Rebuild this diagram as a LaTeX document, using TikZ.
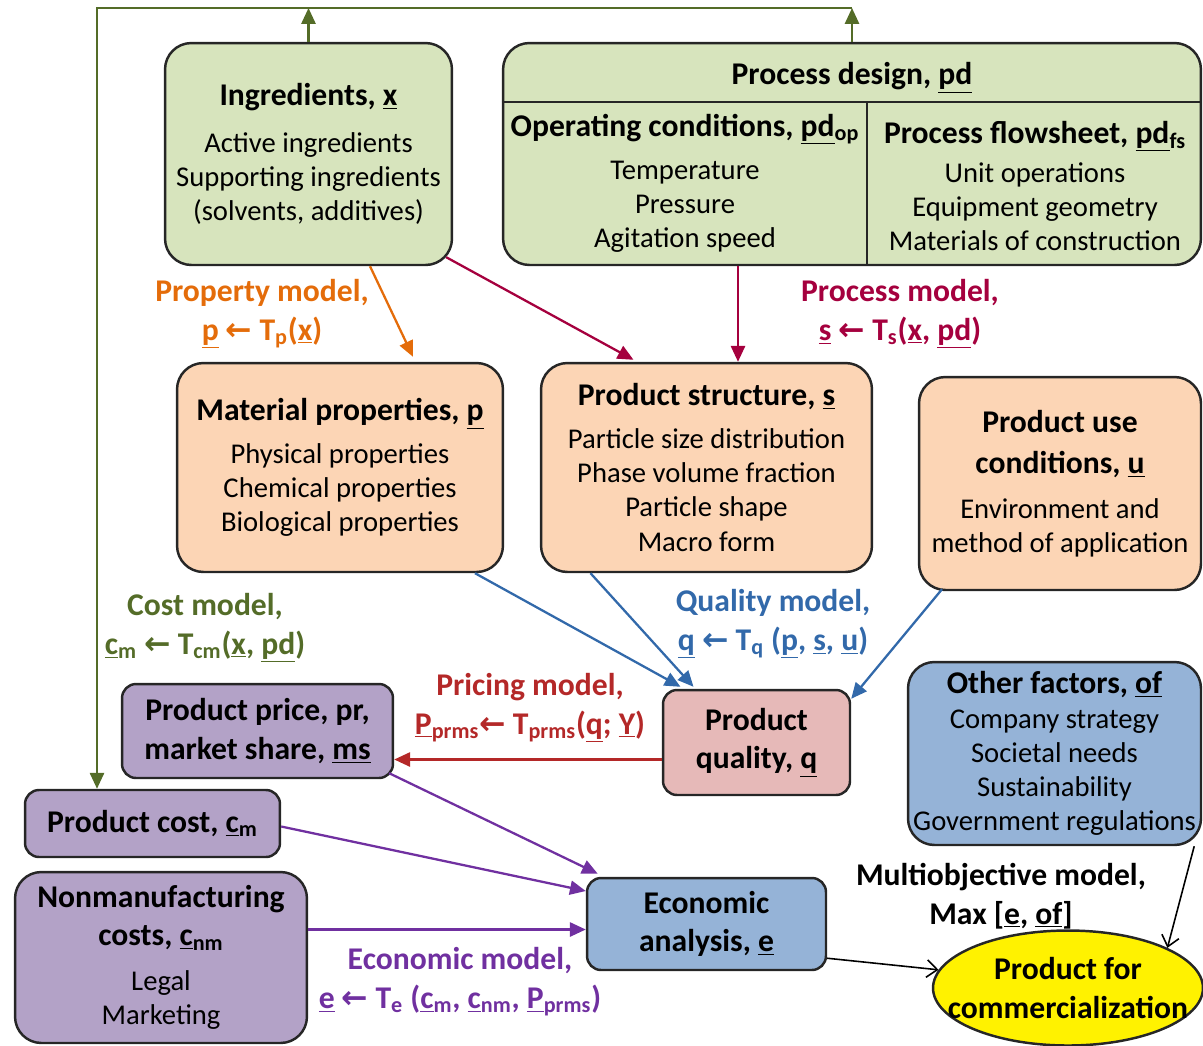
\documentclass[tikz,border=0pt]{standalone}
\usepackage{fontspec}
\setmainfont{Carlito}
\newfontfamily\arrowfont{DejaVu Sans}
\usetikzlibrary{arrows.meta,calc,shapes.geometric}

\definecolor{ingrfill}{RGB}{215,228,189}
\definecolor{propfill}{RGB}{252,213,181}
\definecolor{qualfill}{RGB}{230,185,184}
\definecolor{purpfill}{RGB}{179,162,199}
\definecolor{bluefill}{RGB}{149,179,215}
\definecolor{costgreen}{RGB}{84,108,40}
\definecolor{proporange}{RGB}{228,108,10}
\definecolor{proccrimson}{RGB}{165,0,62}
\definecolor{qualblue}{RGB}{50,105,170}
\definecolor{pricered}{RGB}{180,40,40}
\definecolor{econpurple}{RGB}{112,48,160}

\newcommand\ttl{\fontsize{18}{22}\selectfont\bfseries}
\newcommand\itm{\fontsize{16.3}{19.4}\selectfont}
\newcommand\undl[1]{\underline{#1}}
\newcommand\larr{{\arrowfont ←}}

\tikzset{
  box/.style={draw=black!85, line width=1.4pt, rounded corners=15pt, align=center, inner sep=0pt, font=\itm},
  smallbox/.style={box, rounded corners=8pt},
  lbl/.style={align=center, font=\ttl},
  arr/.style={line width=1.3pt, -{Triangle[length=9pt,width=8pt]}},
  thinarr/.style={line width=0.9pt, -{Straight Barb[length=6pt,width=10pt]}},
}

\begin{document}
\begin{tikzpicture}[x=0.02cm, y=-0.02cm]
	\useasboundingbox (0,0) rectangle (1203,1045);
	
	% Верхний ряд
	\node[box, fill=ingrfill, minimum width=5.74cm, minimum height=4.44cm] (ingr) at (308.5,154)
		{{\ttl Ingredients, \undl{x}}\\[7pt] Active ingredients\\ Supporting ingredients\\ (solvents, additives)};
	\node[box, fill=ingrfill, minimum width=13.96cm, minimum height=4.44cm] (pd) at (852,154) {};
	\node[lbl] (pdtitle) at (852,78) {Process design, \undl{pd}};
	\draw[line width=1.4pt, black!85] ($(pd.north west)+(0,60)$) -- ($(pd.north east)+(0,60)$);
	\draw[line width=1.4pt, black!85] ($(pd.north west)+(365,60)$) -- ($(pd.south west)+(365,0)$);
	\node[align=center, font=\itm] (pdop) at (685,183)
		{{\ttl Operating conditions, \undl{pd}\textsubscript{op}}\\[5pt] Temperature\\ Pressure\\ Agitation speed};
	\node[align=center, font=\itm] (pdfs) at (1035,186)
		{{\ttl Process flowsheet, \undl{pd}\textsubscript{fs}}\\[3pt] Unit operations\\ Equipment geometry\\ Materials of construction};
	
	% Средний ряд
	\node[box, fill=propfill, minimum width=6.52cm, minimum height=4.18cm] (matp) at (340,467.5)
		{{\ttl Material properties, \undl{p}}\\[5pt] Physical properties\\ Chemical properties\\ Biological properties};
	\node[box, fill=propfill, minimum width=6.62cm, minimum height=4.18cm] (pstr) at (706.5,467.5)
		{{\ttl Product structure, \undl{s}}\\[5pt] Particle size distribution\\ Phase volume fraction\\ Particle shape\\ Macro form};
	\node[box, fill=propfill, minimum width=5.64cm, minimum height=4.26cm] (puse) at (1060,483.5)
		{{\ttl Product use}\\[4pt] {\ttl conditions, \undl{u}}\\[6pt] Environment and\\ method of application};
	
	% Нижняя часть
	\node[smallbox, fill=qualfill, minimum width=3.74cm, minimum height=2.1cm, font=\ttl] (qual) at (756.5,742.5)
		{Product\\ quality, \undl{q}};
	\node[box, fill=bluefill, minimum width=5.86cm, minimum height=3.66cm] (other) at (1054.5,753.5)
		{{\ttl Other factors, \undl{of}}\\ Company strategy\\ Societal needs\\ Sustainability\\ Government regulations};
	\node[smallbox, fill=purpfill, minimum width=5.42cm, minimum height=1.88cm, font=\ttl] (price) at (257.5,731)
		{Product price, pr,\\ market share, \undl{ms}};
	\node[smallbox, fill=purpfill, minimum width=5.10cm, minimum height=1.34cm, font=\ttl] (cost) at (152.5,823.5)
		{Product cost, \undl{c}\textsubscript{m}};
	\node[box, fill=purpfill, minimum width=5.84cm, minimum height=3.42cm] (nonman) at (161,957.5)
		{{\ttl Nonmanufacturing}\\[2pt] {\ttl costs, \undl{c}\textsubscript{nm}}\\[6pt] Legal\\ Marketing};
	\node[smallbox, fill=bluefill, minimum width=4.78cm, minimum height=1.84cm, font=\ttl] (econ) at (706.5,924)
		{Economic\\ analysis, \undl{e}};
	\node[ellipse, draw=black!85, line width=1.4pt, fill=yellow, minimum width=5.4cm, minimum height=2.3cm,
		inner xsep=-16pt, inner ysep=0pt, align=center, font=\ttl] (prod) at (1068,988) {Product for\\ commercialization};
	
	% Подписи моделей
	\node[lbl, text=proporange] (propmodel) at (262,314) {Property model,\\ \undl{p} \larr{} T\textsubscript{p}(\undl{x})};
	\node[lbl, text=proccrimson] (procmodel) at (900,314) {Process model,\\ \undl{s} \larr{} T\textsubscript{s}(\undl{x}, \undl{pd})};
	\node[lbl, text=costgreen] (costmodel) at (205,628) {Cost model,\\ \undl{c}\textsubscript{m} \larr{} T\textsubscript{cm}(\undl{x}, \undl{pd})};
	\node[lbl, text=qualblue] (qualmodel) at (773,624) {Quality model,\\ \undl{q} \larr{} T\textsubscript{q} (\undl{p}, \undl{s}, \undl{u})};
	\node[lbl, text=pricered] (pricemodel) at (530,708) {Pricing model,\\ \undl{P}\textsubscript{prms}\larr{} T\textsubscript{prms}(\undl{q}; \undl{Y})};
	\node[lbl] (multimodel) at (1001,896) {Multiobjective model,\\ Max [\undl{e}, \undl{of}]};
	\node[lbl, text=econpurple] (econmodel) at (460,982)
		{Economic model,\\ \undl{e} \larr{} T\textsubscript{e} (\undl{c}\textsubscript{m}, \undl{c}\textsubscript{nm}, \undl{P}\textsubscript{prms})};
	
	% Обратная связь по стоимости
	\coordinate (topL) at (97,8);
	\draw[arr, costgreen] (ingr.north) -- (ingr.north |- topL);
	\draw[arr, costgreen] (pd.north) -- (pd.north |- topL);
	\draw[arr, costgreen] (pd.north |- topL) -- (topL) -- (topL |- cost.north);
	
	% Стрелки
	\draw[arr, proporange] ($(ingr.south)+(61.5,0)$) -- ($(matp.north)+(73,-5)$);
	\draw[arr, proccrimson] ($(ingr.south east)+(-7,-9)$) -- ($(pstr.north)+(-73,-2)$);
	\coordinate (pdout) at ($(pd.south)+(-114,0)$);
	\draw[arr, proccrimson] (pdout) -- (pdout |- pstr.north);
	
	\draw[arr, qualblue] ($(matp.south)+(135,0)$) -- ($(qual.north)+(-76,-2)$);
	\draw[arr, qualblue] ($(pstr.south)+(-116,0)$) -- ($(qual.north)+(-63,-2)$);
	\draw[arr, qualblue] ($(puse.south)+(-118,-2)$) -- ($(qual.north east)+(0,10)$);
	
	\coordinate (qout) at ($(qual.west)+(0,17)$);
	\draw[arr, pricered] (qout) -- (qout -| price.east);
	
	\draw[arr, econpurple] ($(price.south east)+(-5,-6)$) -- ($(econ.north west)+(12,-3)$);
	\draw[arr, econpurple] ($(cost.east)+(0,3)$) -- ($(econ.west)+(0,-33)$);
	\coordinate (nmout) at ($(nonman.east)+(0,-28)$);
	\draw[arr, econpurple] (nmout) -- (nmout -| econ.west);
	
	\draw[thinarr] ($(econ.south east)+(0,-13)$) -- (prod.172);
	\draw[thinarr] ($(other.south east)+(-8,0)$) -- (prod.22);
\end{tikzpicture}
\end{document}
